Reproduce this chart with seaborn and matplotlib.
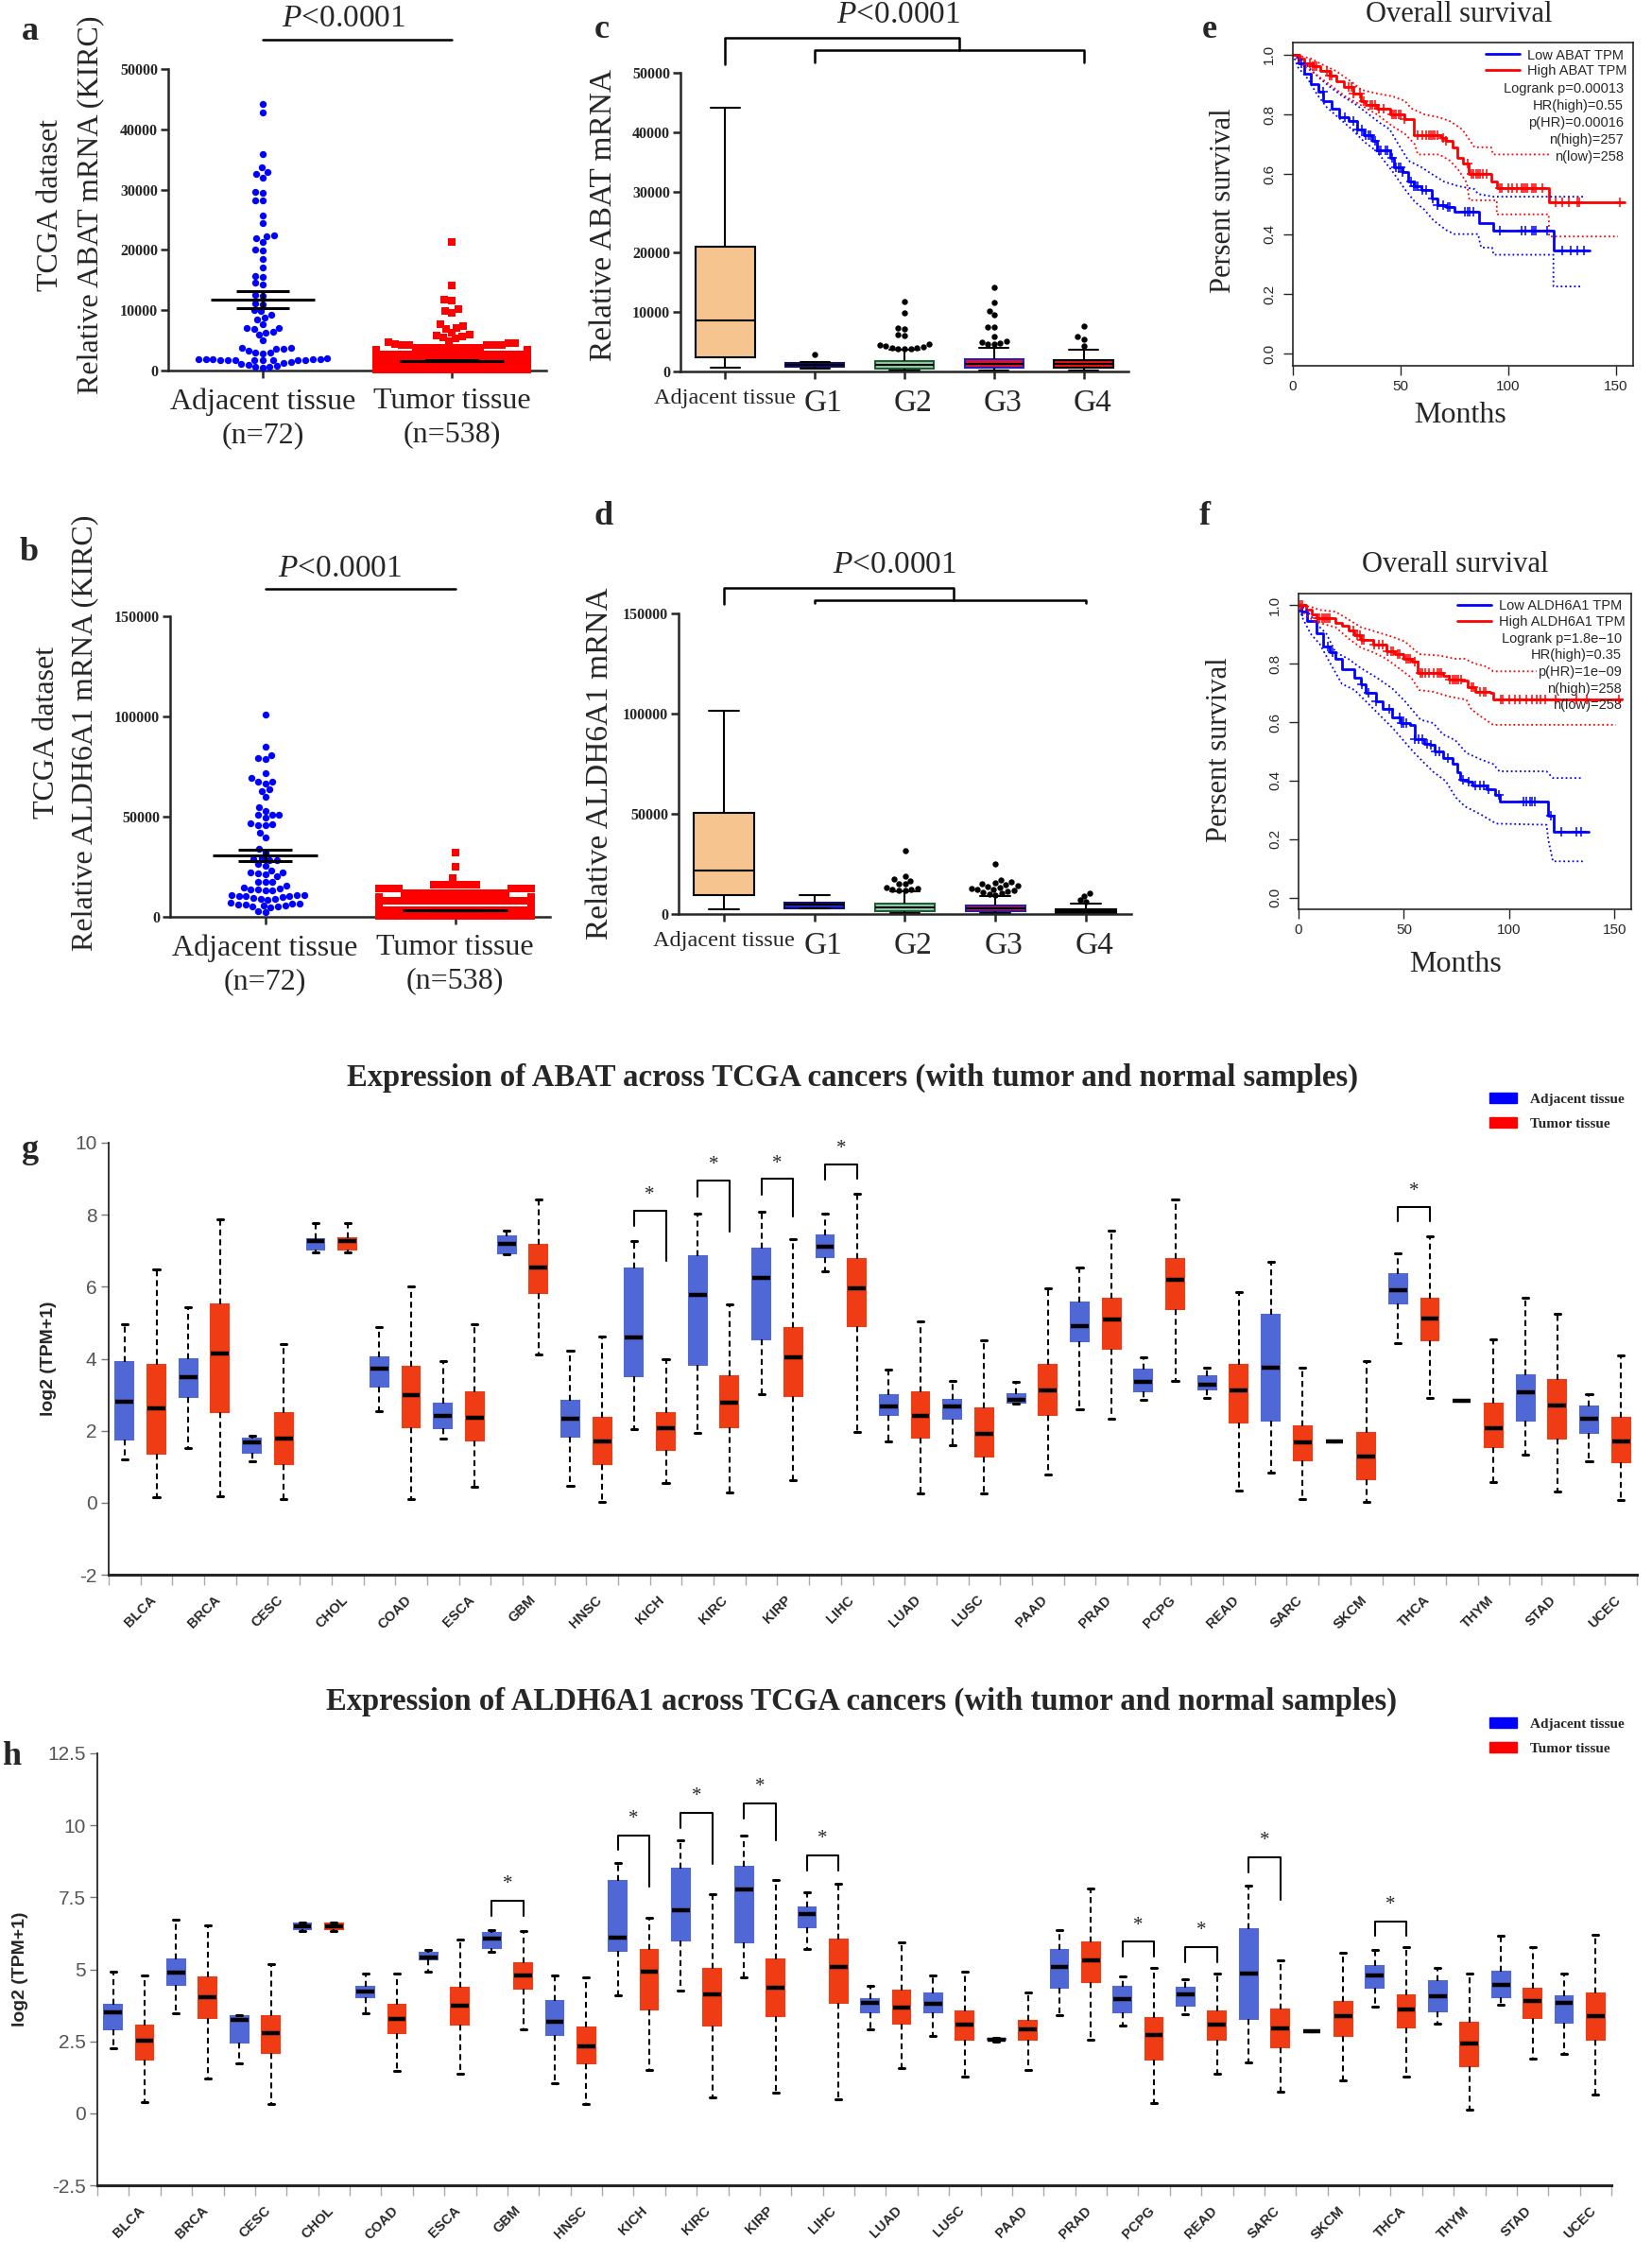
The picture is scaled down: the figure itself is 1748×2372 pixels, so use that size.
import warnings
import numpy as np
import pandas as pd
import matplotlib
matplotlib.use("Agg")
import matplotlib.pyplot as plt
import matplotlib.transforms as mtransforms
from matplotlib import font_manager
from matplotlib.lines import Line2D
from matplotlib.patches import Patch
from matplotlib.ticker import FuncFormatter
import seaborn as sns

warnings.filterwarnings("ignore")

# ------------------------------------------------------------------ data
# a / b : TCGA KIRC dot plots
abat_adjacent = [44260, 42850, 35960, 33720, 32930, 32670, 32050, 29650, 29540,
                 28290, 28180, 25730, 24480, 22340, 22230, 21870, 21290, 19990,
                 19890, 18480, 17020, 15710, 15450, 14510, 14250, 12580, 12320,
                 11170, 11010, 9970, 9810, 9190, 8770, 8400, 7620, 7100, 6990,
                 6840, 6470, 6320, 5950, 5010, 3810, 3710, 3600, 3550, 3290,
                 3030, 2920, 2820, 1980, 1950, 1900, 1880, 1850, 1820, 1800,
                 1780, 1760, 1740, 1720, 1700, 1680, 1650, 1360, 1250, 1120,
                 950, 820, 700, 560, 420]
abat_tumor_outliers = [21290, 14140, 11690, 11530, 10120, 9810, 9550, 7620, 7360,
                       7100, 6840, 6210, 5790, 5950, 5640, 5530, 5270, 4850,
                       4750, 4590, 4490, 4380]
abat_tumor_levels = [200, 600, 1000, 1400, 1800, 2200, 2600, 3000, 3400, 3800, 4200]
abat_tumor_counts = [95, 95, 80, 65, 50, 42, 32, 25, 17, 10, 5]

aldh_adjacent = [101000, 84820, 80580, 79320, 79000, 71780, 69110, 67540, 67230,
                 66600, 63460, 62830, 59690, 54500, 52930, 51050, 50890, 50730,
                 49480, 46810, 46020, 45860, 45550, 42090, 39580, 33770, 32200,
                 29060, 28740, 28270, 26230, 25450, 23250, 22300, 21680, 21200,
                 20100, 17590, 17280, 15710, 14610, 14140, 13670, 13350, 13040,
                 11000, 10680, 10520, 10210, 9740, 9420, 9110, 8950, 8640, 6600,
                 6280, 5970, 5810, 5500, 5180, 4710, 2830, 2360, 7070, 6750,
                 5030, 10210, 11000, 13670, 17280, 21990, 28270]
aldh_tumor_outliers = [31890, 25130, 19160]
aldh_tumor_levels = [500, 1500, 2500, 3500, 4500, 6000, 8000, 10000, 12000, 14000, 16000]
aldh_tumor_counts = [150, 120, 80, 50, 35, 30, 22, 18, 15, 8, 7]

# c / d : grade box plots (whisker low, Q1, median, Q3, whisker high)
grade_groups = ["Adjacent tissue", "G1", "G2", "G3", "G4"]
abat_grade_stats = [[580, 2370, 8600, 20830, 44100],
                    [420, 840, 1100, 1370, 1580],
                    [100, 530, 1050, 1740, 3590],
                    [160, 690, 1210, 2000, 3960],
                    [160, 690, 1210, 1850, 3590]]
abat_g1_out = [2800]
abat_g2_out = [11660, 9760, 7280, 7170, 6120, 5960, 4640, 4380, 4270, 4110, 3960,
               3850, 3750, 3800, 3900]
abat_g3_out = [14130, 11500, 10180, 9550, 7440, 7440, 5800, 5010, 4750, 4640, 4850, 4540]
abat_g4_out = [7540, 5800, 5430, 4270]

aldh_grade_stats = [[2360, 9400, 21900, 50600, 101300],
                    [3000, 3000, 4700, 5500, 9300],
                    [300, 1600, 3100, 5300, 11300],
                    [300, 1400, 3000, 4200, 9000],
                    [0, 600, 1600, 2400, 5300]]
aldh_g1_out = []
aldh_g2_out = [31800, 18700, 17300, 16500, 15300, 15000, 13400, 12900, 12300,
               11800, 12000, 12500]
aldh_g3_out = [25200, 16800, 16000, 15500, 14500, 14000, 13200, 12800, 12100,
               11600, 11300, 10800, 10300, 9900, 9600, 12500, 13600, 15000]
aldh_g4_out = [10200, 9000, 6900, 6100]

# e / f : Kaplan-Meier (months, survival), steps-post
e_high_t = [0, 3, 5.4, 9, 12.7, 17, 20, 23.7, 28, 31.8, 34, 39, 45, 52, 56, 69, 71,
            74, 76.4, 79, 81.5, 92, 95, 119, 154]
e_high_s = [1.0, 0.985, 0.97, 0.96, 0.945, 0.93, 0.91, 0.89, 0.87, 0.845, 0.83, 0.82,
            0.80, 0.785, 0.73, 0.72, 0.71, 0.69, 0.655, 0.635, 0.60, 0.575, 0.555,
            0.506, 0.506]
e_low_t = [0, 2.5, 5.4, 8.3, 12, 14.2, 18, 21.5, 26, 30, 33, 37, 39, 45, 47, 51,
           53.7, 56, 59.6, 64.6, 67, 71, 75, 86.6, 93, 121, 138]
e_low_s = [1.0, 0.97, 0.935, 0.90, 0.877, 0.845, 0.82, 0.79, 0.777, 0.75, 0.73, 0.71,
           0.68, 0.655, 0.624, 0.608, 0.576, 0.56, 0.547, 0.518, 0.497, 0.489, 0.474,
           0.436, 0.413, 0.345, 0.345]
e_high_up_t = [0, 8.3, 12.7, 20, 27.4, 31.8, 39, 46.4, 52, 55, 61, 68, 73, 78.6,
               81.5, 84.4, 92, 93, 119]
e_high_up_s = [1.0, 0.987, 0.97, 0.945, 0.908, 0.882, 0.87, 0.86, 0.845, 0.82, 0.80,
               0.79, 0.777, 0.75, 0.72, 0.69, 0.69, 0.666, 0.666]
e_high_lo_t = [0, 5.4, 11.3, 17, 24.4, 31.8, 39, 46.4, 52, 56.6, 58, 68, 73, 77,
               80.8, 82, 94.7, 94.7, 118.8, 119, 151]
e_high_lo_s = [1.0, 0.96, 0.93, 0.90, 0.86, 0.83, 0.80, 0.76, 0.735, 0.70, 0.666,
               0.666, 0.645, 0.613, 0.571, 0.513, 0.513, 0.466, 0.466, 0.392, 0.392]
e_low_up_t = [0, 4, 8.3, 12.7, 17, 23, 28.8, 34.7, 40.5, 45, 47.9, 53.7, 59.6, 64,
              70, 76.4, 84.4, 86, 93, 135.7]
e_low_up_s = [1.0, 0.982, 0.95, 0.919, 0.893, 0.861, 0.835, 0.803, 0.771, 0.75,
              0.713, 0.645, 0.624, 0.603, 0.576, 0.561, 0.55, 0.534, 0.525, 0.525]
e_low_lo_t = [0, 2.5, 6.9, 11.3, 15.7, 21.5, 27.4, 33.2, 39, 46.4, 52, 56.6, 61,
              65.4, 71.3, 75, 86, 87.4, 92.5, 93.2, 121, 121, 134]
e_low_lo_s = [1.0, 0.956, 0.919, 0.866, 0.824, 0.787, 0.75, 0.708, 0.676, 0.608,
              0.55, 0.508, 0.482, 0.445, 0.413, 0.40, 0.40, 0.355, 0.355, 0.331,
              0.331, 0.225, 0.225]
e_high_cens = [8, 9, 10, 11, 16, 17, 18, 26, 27, 28, 31, 33, 36, 37, 38, 40, 42, 46,
               47, 48, 49, 50, 52, 58, 60, 62, 63, 64, 65, 66, 67, 70, 71, 81, 83,
               84, 85, 86, 87, 88, 90, 96, 97, 100, 102, 104, 106, 107, 108, 109,
               111, 112, 113, 116, 122, 125, 128, 132, 133, 152]
e_low_cens = [4, 14, 24, 28, 30, 32, 34, 35, 36, 38, 40, 41, 43, 44, 46, 48, 49, 50,
              51, 55, 56, 57, 58, 60, 62, 65, 67, 70, 72, 73, 80, 81, 82, 84, 96,
              106, 108, 111, 112, 113, 118, 125, 129, 132, 135]

f_high_t = [0, 3.4, 6.4, 8.7, 17.6, 20.6, 24, 26.6, 29.6, 35.6, 41.6, 46, 50, 54,
            56.5, 68.5, 71.5, 77.5, 80.5, 84, 91, 92.4, 153.7]
f_high_s = [1.0, 0.984, 0.968, 0.957, 0.94, 0.93, 0.915, 0.898, 0.88, 0.866, 0.844,
            0.833, 0.817, 0.806, 0.769, 0.758, 0.747, 0.742, 0.72, 0.704, 0.699,
            0.677, 0.677]
f_low_t = [0, 1.2, 4.2, 8.7, 11.7, 14.7, 17.6, 20.6, 26.6, 29.6, 31.9, 37, 40, 44.6,
           48.3, 52.8, 55, 59.5, 62.5, 64.8, 68.5, 73, 75.2, 76.7, 80.5, 82.7, 89.4,
           93.2, 95.4, 118.6, 121, 138]
f_low_s = [1.0, 0.978, 0.946, 0.903, 0.86, 0.839, 0.817, 0.78, 0.753, 0.731, 0.699,
           0.672, 0.645, 0.618, 0.597, 0.591, 0.543, 0.527, 0.522, 0.5, 0.478, 0.457,
           0.43, 0.403, 0.398, 0.382, 0.371, 0.35, 0.328, 0.28, 0.224, 0.224]
f_high_up_t = [0, 5.7, 10.2, 17.6, 23.6, 29.6, 37, 44.6, 50.5, 57.3, 67, 74.5, 79,
               83.4, 89.4, 92.4, 113]
f_high_up_s = [1.0, 0.995, 0.984, 0.978, 0.952, 0.925, 0.909, 0.892, 0.876, 0.833,
               0.828, 0.817, 0.817, 0.801, 0.79, 0.774, 0.774]
f_high_lo_t = [0, 2.7, 7.2, 14.7, 17.6, 23.6, 29.6, 35.6, 41.6, 47.6, 53.5, 57.3,
               64, 71.5, 79.7, 82, 85.7, 92.4, 150.7]
f_high_lo_s = [1.0, 0.973, 0.946, 0.93, 0.925, 0.887, 0.855, 0.839, 0.817, 0.785,
               0.753, 0.71, 0.704, 0.688, 0.677, 0.645, 0.624, 0.591, 0.591]
f_low_up_t = [0, 3.4, 8.7, 13.2, 17.6, 23.6, 29.6, 37, 44.6, 50.5, 58, 64, 68.5,
              74.5, 79.7, 86.4, 92.4, 95.4, 117.8, 120.8, 134.3]
f_low_up_s = [1.0, 0.989, 0.935, 0.903, 0.839, 0.817, 0.785, 0.753, 0.715, 0.672,
              0.608, 0.597, 0.559, 0.538, 0.495, 0.473, 0.457, 0.432, 0.432, 0.409,
              0.409]
f_low_lo_t = [0, 1.9, 5.7, 10.2, 14.7, 20.6, 26.6, 32.6, 38.6, 44.6, 50.5, 55,
              59.5, 64, 70, 74.5, 79, 86.4, 93.9, 117.8, 118.6, 120.8, 135]
f_low_lo_s = [1.0, 0.957, 0.903, 0.866, 0.806, 0.731, 0.71, 0.667, 0.624, 0.581,
              0.532, 0.495, 0.462, 0.43, 0.398, 0.344, 0.312, 0.285, 0.253, 0.249,
              0.199, 0.124, 0.124]
f_high_cens = [1, 2, 9, 10, 11, 12, 13, 14, 15, 26, 28, 29, 30, 31, 36, 38, 40, 42,
               44, 45, 47, 48, 51, 52, 53, 55, 58, 59, 60, 62, 64, 66, 67, 68, 72,
               73, 74, 75, 76, 77, 82, 83, 86, 88, 89, 96, 97, 100, 103, 105, 108,
               111, 113, 115, 117, 122, 132, 137, 152]
f_low_cens = [2, 14, 16, 30, 33, 37, 43, 48, 49, 50, 51, 55, 57, 59, 61, 63, 65, 67,
              71, 78, 81, 84, 86, 88, 90, 95, 107, 108, 110, 111, 112, 120, 125,
              132, 134]

# g / h : pan-cancer box plots (whisker low, Q1, median, Q3, whisker high)
cancers = ["BLCA", "BRCA", "CESC", "CHOL", "COAD", "ESCA", "GBM", "HNSC", "KICH",
           "KIRC", "KIRP", "LIHC", "LUAD", "LUSC", "PAAD", "PRAD", "PCPG", "READ",
           "SARC", "SKCM", "THCA", "THYM", "STAD", "UCEC"]
abat_adj_stats = [[1.20, 1.75, 2.81, 3.91, 4.95], [1.52, 2.93, 3.49, 3.98, 5.43],
                  [1.15, 1.40, 1.68, 1.78, 1.85], [6.96, 7.02, 7.27, 7.32, 7.77],
                  [2.55, 3.22, 3.72, 4.05, 4.88], [1.77, 2.07, 2.40, 2.74, 3.93],
                  [6.89, 6.92, 7.19, 7.41, 7.56], [0.46, 1.84, 2.32, 2.84, 4.23],
                  [2.04, 3.52, 4.58, 6.51, 7.26], [1.95, 3.83, 5.78, 6.84, 8.04],
                  [3.02, 4.55, 6.25, 7.07, 8.09], [6.42, 6.82, 7.12, 7.42, 8.02],
                  [1.70, 2.44, 2.67, 2.99, 3.69], [1.59, 2.32, 2.67, 2.87, 3.39],
                  [2.75, 2.77, 2.85, 3.02, 3.35], [2.60, 4.48, 4.90, 5.56, 6.54],
                  [2.87, 3.09, 3.35, 3.70, 4.03], [2.92, 3.15, 3.27, 3.52, 3.75],
                  [0.84, 2.29, 3.75, 5.21, 6.69], [1.69, 1.69, 1.69, 1.69, 1.69],
                  [4.43, 5.53, 5.91, 6.36, 6.92], [2.82, 2.82, 2.82, 2.82, 2.82],
                  [1.34, 2.29, 3.07, 3.55, 5.70], [1.16, 1.95, 2.32, 2.67, 3.02]]
abat_tum_stats = [[0.16, 1.35, 2.62, 3.83, 6.49], [0.19, 2.52, 4.15, 5.50, 7.86],
                  [0.11, 1.06, 1.77, 2.50, 4.42], [6.96, 7.02, 7.27, 7.35, 7.77],
                  [0.11, 2.10, 3.00, 3.78, 6.00], [0.44, 1.72, 2.37, 3.07, 4.95],
                  [4.11, 5.83, 6.54, 7.17, 8.42], [0.03, 1.08, 1.69, 2.35, 4.61],
                  [0.56, 1.47, 2.07, 2.50, 4.00], [0.28, 2.10, 2.77, 3.52, 5.51],
                  [0.63, 2.97, 4.03, 4.85, 7.32], [1.97, 4.90, 5.95, 6.77, 8.57],
                  [0.26, 1.80, 2.40, 3.07, 5.05], [0.26, 1.27, 1.92, 2.62, 4.50],
                  [0.79, 2.44, 3.12, 3.83, 5.95], [2.34, 4.28, 5.08, 5.68, 7.56],
                  [3.37, 5.38, 6.18, 6.77, 8.42], [0.34, 2.22, 3.12, 3.83, 5.86],
                  [0.11, 1.19, 1.67, 2.12, 3.74], [0.03, 0.66, 1.27, 1.94, 3.93],
                  [2.90, 4.51, 5.11, 5.66, 7.39], [0.58, 1.54, 2.07, 2.74, 4.53],
                  [0.31, 1.77, 2.70, 3.42, 5.25], [0.08, 1.12, 1.70, 2.37, 4.08]]
aldh_adj_stats = [[2.25, 2.90, 3.52, 3.78, 4.91], [3.49, 4.45, 4.88, 5.34, 6.71],
                  [1.73, 2.47, 3.23, 3.36, 3.42], [6.32, 6.41, 6.48, 6.60, 6.64],
                  [3.49, 4.04, 4.23, 4.40, 4.84], [4.91, 5.34, 5.40, 5.57, 5.66],
                  [5.60, 5.73, 6.06, 6.25, 6.35], [1.04, 2.71, 3.19, 3.91, 4.78],
                  [4.10, 5.64, 6.09, 8.07, 8.68], [4.26, 5.99, 7.06, 8.50, 9.47],
                  [4.73, 5.92, 7.77, 8.55, 9.64], [5.69, 6.45, 6.93, 7.16, 7.68],
                  [2.93, 3.52, 3.84, 3.97, 4.43], [2.70, 3.52, 3.80, 4.17, 4.79],
                  [2.50, 2.54, 2.57, 2.60, 2.62], [3.42, 4.36, 5.08, 5.66, 6.35],
                  [3.06, 3.52, 3.97, 4.40, 4.75], [3.45, 3.75, 4.13, 4.36, 4.66],
                  [1.78, 3.29, 4.84, 6.38, 7.90], [2.84, 2.84, 2.84, 2.84, 2.84],
                  [3.69, 4.36, 4.79, 5.12, 5.66], [3.10, 3.55, 4.08, 4.58, 5.05],
                  [3.78, 4.04, 4.47, 4.91, 6.15], [2.06, 3.16, 3.84, 4.06, 4.84]]
aldh_tum_stats = [[0.39, 1.86, 2.51, 3.06, 4.78], [1.21, 3.32, 4.04, 4.73, 6.51],
                  [0.33, 2.08, 2.80, 3.39, 5.18], [6.32, 6.41, 6.48, 6.60, 6.64],
                  [1.46, 2.80, 3.28, 3.78, 4.84], [1.37, 3.09, 3.75, 4.36, 6.03],
                  [2.93, 4.32, 4.79, 5.21, 6.32], [0.33, 1.72, 2.32, 2.97, 4.73],
                  [1.50, 3.62, 4.92, 5.66, 6.80], [0.56, 3.06, 4.13, 5.01, 7.62],
                  [0.72, 3.39, 4.36, 5.34, 8.11], [0.48, 3.82, 5.08, 6.05, 7.98],
                  [1.56, 3.12, 3.67, 4.26, 5.95], [1.26, 2.57, 3.09, 3.55, 4.91],
                  [1.52, 2.54, 2.90, 3.22, 4.19], [2.54, 4.56, 5.31, 5.95, 7.81],
                  [0.37, 1.86, 2.71, 3.32, 5.04], [1.37, 2.57, 3.09, 3.55, 4.84],
                  [0.76, 2.28, 2.96, 3.61, 5.31], [1.13, 2.70, 3.36, 3.88, 5.57],
                  [1.26, 2.99, 3.61, 4.10, 5.76], [0.13, 1.63, 2.41, 3.16, 4.84],
                  [1.89, 3.32, 3.91, 4.32, 5.76], [0.65, 2.57, 3.36, 4.17, 6.21]]
# significance brackets: cancer, top, left leg end, right leg end
abat_brackets = [("KICH", 8.12, 7.69, 6.72), ("KIRC", 8.95, 8.50, 7.54),
                 ("KIRP", 9.00, 8.55, 7.94), ("LIHC", 9.40, 8.98, 9.00),
                 ("THCA", 8.22, 7.81, 7.81)]
aldh_brackets = [("GBM", 7.38, 6.84, 6.84), ("KICH", 9.66, 9.15, 7.88),
                 ("KIRC", 10.44, 9.92, 8.66), ("KIRP", 10.77, 10.25, 9.47),
                 ("LIHC", 8.96, 8.42, 8.42), ("PCPG", 5.96, 5.44, 5.44),
                 ("READ", 5.77, 5.25, 5.25), ("SARC", 8.89, 8.37, 7.42),
                 ("THCA", 6.67, 6.15, 6.15)]

# ------------------------------------------------------------------ style
sns.set_style("ticks")
SERIF = "Liberation Serif"
SANS = "Liberation Sans"
_names = {f.name for f in font_manager.fontManager.ttflist}
NARROW = "Liberation Sans Narrow" if "Liberation Sans Narrow" in _names else SANS
plt.rcParams["font.family"] = [SERIF, "DejaVu Serif"]
plt.rcParams["mathtext.fontset"] = "custom"
plt.rcParams["mathtext.it"] = "Liberation Serif:italic"
plt.rcParams["mathtext.rm"] = "Liberation Serif"

W, H = 1748, 2372
fig = plt.figure(figsize=(W / 100, H / 100), dpi=100)


def rect(l, t, r, b):
    return [l / W, 1 - b / H, (r - l) / W, (b - t) / H]


def ftext(x, y, s, **kw):
    fig.text(x / W, 1 - y / H, s, **kw)


BLUE, RED = "#0000FF", "#FF0000"


# ------------------------------------------------------------------ a / b
def dot_panel(ax, adjacent, outliers, levels, counts, ymax, yticks):
    labels = ["Adjacent tissue\n(n=72)", "Tumor tissue\n(n=538)"]
    tumor = list(outliers) + list(np.repeat(levels, counts))
    sns.swarmplot(x=[labels[0]] * len(adjacent), y=adjacent, order=labels,
                  color=BLUE, marker="o", size=5.3, linewidth=0, clip_on=False,
                  ax=ax)
    sns.swarmplot(x=[labels[1]] * len(tumor), y=tumor, order=labels,
                  color=RED, marker="s", size=5.2, linewidth=0, clip_on=False,
                  ax=ax)
    for i, vals in enumerate([adjacent, tumor]):
        m = np.mean(vals)
        se = np.std(vals, ddof=1) / np.sqrt(len(vals))
        ax.hlines(m, i - 0.275, i + 0.275, color="black", lw=2.2, zorder=5)
        ax.hlines([m - se, m + se], i - 0.14, i + 0.14, color="black", lw=2.2,
                  zorder=5)
        ax.vlines(i, m - se, m + se, color="black", lw=2.2, zorder=5)
    ax.set_xlim(-0.5, 1.5)
    ax.set_ylim(0, ymax)
    ax.set_yticks(yticks)
    ax.set_xlabel("")
    ax.set_ylabel("")
    for s in ["top", "right"]:
        ax.spines[s].set_visible(False)
    for s in ["left", "bottom"]:
        ax.spines[s].set_linewidth(1.8)
    ax.tick_params(axis="y", length=6, width=1.8, labelsize=11.5, pad=2)
    ax.tick_params(axis="x", length=6, width=1.8, labelsize=23, pad=7)
    for t in ax.get_yticklabels():
        t.set_fontweight("bold")
    for t in ax.get_xticklabels():
        t.set_linespacing(1.3)
    return ax.collections[1]


ax_a = fig.add_axes(rect(178, 73, 578, 392))
tum_a = dot_panel(ax_a, abat_adjacent, abat_tumor_outliers, abat_tumor_levels,
                  abat_tumor_counts, 50000, range(0, 50001, 10000))
ax_b = fig.add_axes(rect(180, 652, 582, 970))
tum_b = dot_panel(ax_b, aldh_adjacent, aldh_tumor_outliers, aldh_tumor_levels,
                  aldh_tumor_counts, 150000, range(0, 150001, 50000))

for ax, yline in [(ax_a, 1.097), (ax_b, 1.091)]:
    ax.plot([0, 1], [yline * ax.get_ylim()[1]] * 2, color="black", lw=1.8,
            clip_on=False)

ftext(364, 28, "$P$<0.0001", ha="center", va="baseline", fontsize=24)
ftext(360, 610, "$P$<0.0001", ha="center", va="baseline", fontsize=24)
ftext(54, 217, "TCGA dataset", rotation=90, ha="center", va="center", fontsize=23)
ftext(96, 217, "Relative ABAT mRNA (KIRC)", rotation=90, ha="center",
      va="center", fontsize=23)
ftext(50, 775, "TCGA dataset", rotation=90, ha="center", va="center", fontsize=23)
ftext(90, 775, "Relative ALDH6A1 mRNA (KIRC)", rotation=90, ha="center",
      va="center", fontsize=23)


# ------------------------------------------------------------------ c / d
def grade_panel(ax, stats, outs, ymax, yticks, br_hi, br_lo, br_mid):
    rows = [(g, v) for g, st in zip(grade_groups, stats) for v in st]
    df = pd.DataFrame(rows, columns=["grade", "value"])
    colors = ["#F5C48F", "#1E2DD2", "#8DD3A6", "#E5102A", "#E8141C"]
    sns.boxplot(data=df, x="grade", y="value", order=grade_groups,
                hue="grade", hue_order=grade_groups, palette=colors,
                saturation=1, whis=(0, 100), width=0.66, linecolor="black",
                linewidth=1.5, fliersize=0, legend=False, ax=ax)
    edges = ["black", "#101070", "#1E5E32", "#2020C0", "black"]
    for p, ec in zip(ax.patches, edges):
        p.set_edgecolor(ec)
    ox, oy = [], []
    for g, o in zip(grade_groups[1:], outs):
        ox += [g] * len(o)
        oy += list(o)
    sns.swarmplot(x=ox, y=oy, order=grade_groups, color="black", size=4.6,
                  ax=ax)
    ax.set_xlim(-0.5, 4.5)
    ax.set_ylim(0, ymax)
    ax.set_yticks(yticks)
    ax.set_xlabel("")
    ax.set_ylabel("")
    for s in ["top", "right"]:
        ax.spines[s].set_visible(False)
    for s in ["left", "bottom"]:
        ax.spines[s].set_linewidth(1.8)
    ax.tick_params(axis="y", length=6, width=1.8, labelsize=11.5, pad=2)
    ax.tick_params(axis="x", length=6, width=1.8, labelsize=24, pad=7)
    for t in ax.get_yticklabels():
        t.set_fontweight("bold")
    labels = ax.get_xticklabels()
    labels[0].set_fontsize(17.5)
    shift = mtransforms.ScaledTranslation(9 / 100, 0, fig.dpi_scale_trans)
    for t in labels[1:]:
        t.set_transform(t.get_transform() + shift)
    top = ymax * br_hi
    low = ymax * br_lo
    ax.plot([0, 0, br_mid, br_mid], [ymax * 1.03, top, top, low], color="black",
            lw=1.8, clip_on=False)
    ax.plot([1, 1, 4, 4], [ymax * 1.035, low, low, ymax * 1.035], color="black",
            lw=1.8, clip_on=False)


ax_c = fig.add_axes(rect(720, 77, 1194, 393))
grade_panel(ax_c, abat_grade_stats, [abat_g1_out, abat_g2_out, abat_g3_out, abat_g4_out],
            50000, range(0, 50001, 10000), 1.117, 1.076, 2.61)
ax_d = fig.add_axes(rect(718, 649, 1197, 967))
grade_panel(ax_d, aldh_grade_stats, [aldh_g1_out, aldh_g2_out, aldh_g3_out, aldh_g4_out],
            150000, range(0, 150001, 50000), 1.085, 1.044, 2.54)
ftext(951, 24, "$P$<0.0001", ha="center", va="baseline", fontsize=24)
ftext(947, 606, "$P$<0.0001", ha="center", va="baseline", fontsize=24)
ftext(639, 227, "Relative ABAT mRNA", rotation=90, ha="center", va="center",
      fontsize=24)
ftext(635, 808, "Relative ALDH6A1 mRNA", rotation=90, ha="center", va="center",
      fontsize=24)


# ------------------------------------------------------------------ e / f
def step_at(times, surv, t):
    idx = np.searchsorted(times, t, side="right") - 1
    return np.asarray(surv)[idx]


def km_panel(ax, curves, cis, cens, gene, stats_lines):
    for (t, s), col in zip(curves, [BLUE, RED]):
        sns.lineplot(x=t, y=s, drawstyle="steps-post", color=col, lw=2.0,
                     estimator=None, sort=False, ax=ax)
    for (t, s), col in zip(cis, [BLUE, BLUE, RED, RED]):
        sns.lineplot(x=t, y=s, color=col, lw=1.3, linestyle=(0, (1, 1.6)),
                     estimator=None, sort=False, ax=ax)
    for (t, s), ct, col in zip(curves, cens, [BLUE, RED]):
        sns.scatterplot(x=ct, y=step_at(t, s, ct), marker="+", s=45, color=col,
                        linewidth=1.1, ax=ax, zorder=4)
    ax.set_xlim(0, 158)
    ax.set_ylim(-0.04, 1.04)
    ax.set_xticks([0, 50, 100, 150])
    ax.set_yticks([0, 0.2, 0.4, 0.6, 0.8, 1.0])
    ax.set_yticklabels(["0.0", "0.2", "0.4", "0.6", "0.8", "1.0"], rotation=90,
                       va="center", family=SANS)
    ax.set_xticklabels(["0", "50", "100", "150"], family=SANS)
    ax.tick_params(length=7, width=1, labelsize=11, pad=4)
    ax.tick_params(axis="y", pad=6)
    for sp in ax.spines.values():
        sp.set_linewidth(1.2)
    ax.set_xlabel("")
    ax.set_ylabel("")
    handles = [Line2D([], [], color=BLUE, lw=2), Line2D([], [], color=RED, lw=2)]
    ax.legend(handles, [f"Low {gene} TPM", f"High {gene} TPM"], loc="upper right",
              bbox_to_anchor=(0.985, 0.985), frameon=False,
              prop={"family": SANS, "size": 10.5}, handlelength=2.5,
              handletextpad=0.5, labelspacing=0.15, borderpad=0.1,
              borderaxespad=0)
    for yy, txt in zip([0.857, 0.804, 0.751, 0.699, 0.646], stats_lines):
        ax.text(0.972, yy, txt, transform=ax.transAxes, ha="right", va="center",
                family=SANS, fontsize=10.5)


ax_e = fig.add_axes(rect(1368, 45, 1728, 387))
km_panel(ax_e, [(e_low_t, e_low_s), (e_high_t, e_high_s)],
         [(e_low_up_t, e_low_up_s), (e_low_lo_t, e_low_lo_s),
          (e_high_up_t, e_high_up_s), (e_high_lo_t, e_high_lo_s)],
         [e_low_cens, e_high_cens], "ABAT",
         ["Logrank p=0.00013", "HR(high)=0.55", "p(HR)=0.00016", "n(high)=257",
          "n(low)=258"])
ax_f = fig.add_axes(rect(1374, 628, 1726, 962))
km_panel(ax_f, [(f_low_t, f_low_s), (f_high_t, f_high_s)],
         [(f_low_up_t, f_low_up_s), (f_low_lo_t, f_low_lo_s),
          (f_high_up_t, f_high_up_s), (f_high_lo_t, f_high_lo_s)],
         [f_low_cens, f_high_cens], "ALDH6A1",
         ["Logrank p=1.8e\u221210", "HR(high)=0.35", "p(HR)=1e\u221209",
          "n(high)=258", "n(low)=258"])
ftext(1544, 23, "Overall survival", ha="center", va="baseline", fontsize=22)
ftext(1540, 605, "Overall survival", ha="center", va="baseline", fontsize=22)
ftext(1295, 212, "Persent survival", rotation=90, ha="center", va="center",
      fontsize=22)
ftext(1290, 793, "Persent survival", rotation=90, ha="center", va="center",
      fontsize=22)
ftext(1545, 447, "Months", ha="center", va="baseline", fontsize=23)
ftext(1540, 1028, "Months", ha="center", va="baseline", fontsize=23)


# ------------------------------------------------------------------ g / h
def pan_panel(ax, adj_stats, tum_stats, ylim, yticks, brackets, star_off):
    rows = []
    for c, a, t in zip(cancers, adj_stats, tum_stats):
        rows += [(c, "Adjacent tissue", v) for v in a]
        rows += [(c, "Tumor tissue", v) for v in t]
    df = pd.DataFrame(rows, columns=["cancer", "tissue", "value"])
    sns.boxplot(data=df, x="cancer", y="value", hue="tissue", order=cancers,
                hue_order=["Adjacent tissue", "Tumor tissue"],
                palette={"Adjacent tissue": "#4F68D6", "Tumor tissue": "#F03C14"},
                saturation=1, whis=(0, 100), width=1.0, gap=0.44,
                linecolor="black", linewidth=1.5, fliersize=0,
                medianprops={"color": "black", "linewidth": 3.2},
                whiskerprops={"linestyle": (0, (3, 2))},
                capprops={"linewidth": 2.2}, capwidths=0.09,
                legend=False, ax=ax)
    for p in ax.patches:
        p.set_edgecolor(p.get_facecolor())
    for c, top, le, re in brackets:
        i = cancers.index(c)
        ax.plot([i - 0.25, i - 0.25, i + 0.25, i + 0.25], [le, top, top, re],
                color="black", lw=1.5, clip_on=False)
        ax.text(i, top + star_off, "*", ha="center", va="center", fontsize=15)
    ax.set_xlim(-0.5, 23.5)
    ax.set_ylim(*ylim)
    ax.set_yticks(yticks)
    ax.yaxis.set_major_formatter(FuncFormatter(lambda v, p: f"{v:g}"))
    ax.set_xticks(range(len(cancers)))
    ax.set_xticklabels(cancers, rotation=45, ha="center", va="top", family=SANS,
                       fontweight="bold", fontsize=10.5)
    ax.set_xticks(np.arange(-0.5, len(cancers), 1), minor=True)
    ax.tick_params(axis="x", which="both", length=8, width=1, color="#AAAAAA",
                   pad=6)
    ax.tick_params(axis="y", length=6, width=1, color="#777777",
                   labelcolor="#555555", labelsize=15, pad=3)
    for t in ax.get_yticklabels():
        t.set_family(NARROW)
    for s in ["top", "right"]:
        ax.spines[s].set_visible(False)
    ax.spines["bottom"].set_linewidth(2.2)
    ax.spines["left"].set_linewidth(1.3)
    ax.set_xlabel("")
    ax.set_ylabel("")


ax_g = fig.add_axes(rect(115, 1209, 1732, 1666))
pan_panel(ax_g, abat_adj_stats, abat_tum_stats, (-2, 10), range(-2, 11, 2),
          abat_brackets, 0.42)
ax_h = fig.add_axes(rect(103, 1855, 1705, 2312))
pan_panel(ax_h, aldh_adj_stats, aldh_tum_stats, (-2.5, 12.5),
          np.arange(-2.5, 12.6, 2.5), aldh_brackets, 0.56)

ftext(902, 1140, "Expression of ABAT across TCGA cancers (with tumor and normal samples)",
      ha="center", va="center", fontsize=23.6, fontweight="bold")
ftext(912, 1800, "Expression of ALDH6A1 across TCGA cancers (with tumor and normal samples)",
      ha="center", va="center", fontsize=23.6, fontweight="bold")
ftext(52, 1437, "log2 (TPM+1)", rotation=90, ha="center", va="center",
      family=SANS, fontweight="bold", fontsize=14)
ftext(22, 2083, "log2 (TPM+1)", rotation=90, ha="center", va="center",
      family=SANS, fontweight="bold", fontsize=14)

leg_handles = [Patch(color=BLUE), Patch(color=RED)]
for top in [1156, 1817]:
    fig.legend(leg_handles, ["Adjacent tissue", "Tumor tissue"], loc="upper left",
               bbox_to_anchor=(1576 / W, 1 - top / H), frameon=False,
               prop={"family": SERIF, "weight": "bold", "size": 11},
               handlelength=1.9, handleheight=0.7, labelspacing=0.8,
               handletextpad=0.9, borderpad=0, borderaxespad=0)

# panel letters
for (x, y), letter in zip([(23, 42), (21, 593), (629, 40), (629, 555),
                           (1272, 40), (1269, 555), (23, 1225), (2, 1867)],
                          "abcdefgh"):
    ftext(x, y, letter, ha="left", va="baseline", fontsize=26, fontweight="bold")

# squeeze the crowded tumour swarms to the reference band width
fig.canvas.draw()
for coll, center in [(tum_a, 1), (tum_b, 1)]:
    if "draw" in vars(coll):
        del coll.draw
    xy = np.array(coll.get_offsets())
    xy[:, 0] = center + (xy[:, 0] - center) * 0.68
    coll.set_offsets(xy)

fig.savefig("out.png", dpi=100)
